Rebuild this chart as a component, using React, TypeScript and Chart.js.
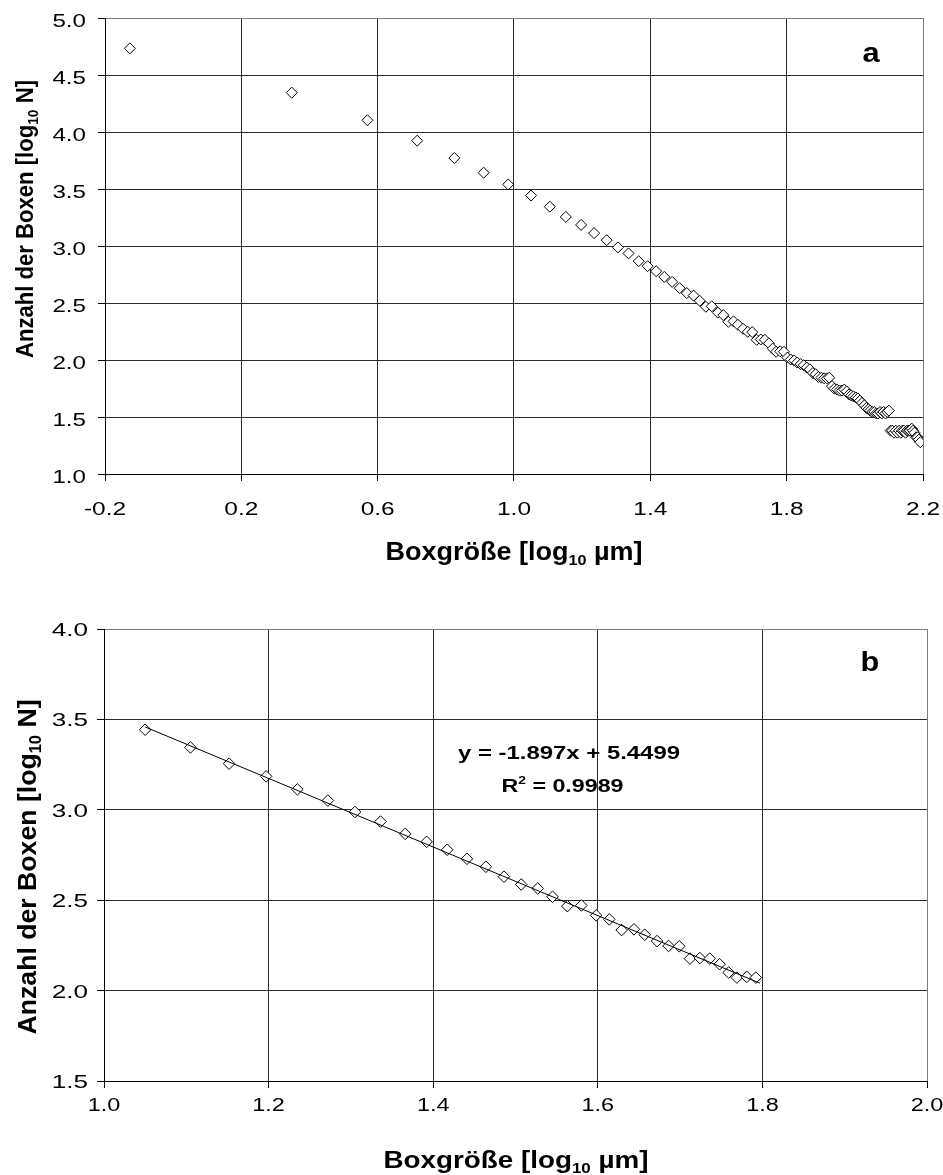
import React, { useEffect, useRef } from "react";
import { Chart, registerables } from "chart.js";

Chart.register(...registerables);

const FONT = '"Liberation Sans", Arial, Helvetica, sans-serif';

// ---------- data (log10 box size, log10 number of boxes) ----------
// chart a: smallest box sizes
const headX = [-0.127, 0.348, 0.57, 0.716, 0.825, 0.911, 0.983];
const headY = [4.734, 4.345, 4.103, 3.924, 3.772, 3.643, 3.54];
// range used for the regression (chart b, also part of chart a)
const fitX = [
  1.05, 1.105, 1.152, 1.197, 1.235, 1.272, 1.305, 1.336, 1.366, 1.392, 1.417, 1.441,
  1.464, 1.486, 1.507, 1.527, 1.545, 1.563, 1.58, 1.598, 1.614, 1.629, 1.644, 1.657,
  1.672, 1.686, 1.699, 1.712, 1.724, 1.736, 1.748, 1.759, 1.769, 1.781, 1.792,
];
const fitY = [
  3.443, 3.345, 3.255, 3.185, 3.113, 3.051, 2.988, 2.935, 2.867, 2.823, 2.779, 2.729,
  2.685, 2.63, 2.587, 2.565, 2.519, 2.467, 2.471, 2.416, 2.394, 2.335, 2.339, 2.309,
  2.274, 2.247, 2.245, 2.177, 2.18, 2.177, 2.146, 2.1, 2.072, 2.076, 2.072,
];
// chart a: largest box sizes
const tailX = [
  1.802, 1.812, 1.822, 1.831, 1.841, 1.85, 1.859, 1.868, 1.877, 1.885, 1.893, 1.902,
  1.91, 1.918, 1.925, 1.933, 1.94, 1.948, 1.955, 1.962, 1.969, 1.976, 1.983, 1.989,
  1.996, 2.003, 2.009, 2.015, 2.021, 2.028, 2.034, 2.04, 2.045, 2.051, 2.057, 2.063,
  2.068, 2.074, 2.079, 2.084, 2.09, 2.095, 2.1, 2.105, 2.11, 2.115, 2.12, 2.125,
  2.13, 2.135, 2.139, 2.144, 2.149, 2.153, 2.158, 2.162, 2.167, 2.171, 2.175, 2.18,
  2.184, 2.188, 2.192,
];
const tailY = [
  2.021, 2.004, 1.996, 1.978, 1.964, 1.954, 1.934, 1.919, 1.886, 1.875, 1.851, 1.845,
  1.839, 1.839, 1.845, 1.771, 1.748, 1.74, 1.732, 1.732, 1.74, 1.724, 1.699, 1.69,
  1.681, 1.672, 1.663, 1.643, 1.623, 1.602, 1.58, 1.568, 1.556, 1.544, 1.544, 1.531,
  1.531, 1.544, 1.531, 1.544, 1.531, 1.544, 1.556, 1.38, 1.38, 1.362, 1.38, 1.362,
  1.38, 1.362, 1.38, 1.38, 1.362, 1.38, 1.38, 1.38, 1.398, 1.38, 1.362, 1.322,
  1.322, 1.301, 1.279,
];
// linear trend line of chart b (end points)
const trendX = [1.05, 1.797];
const trendY = [3.458, 2.041];

// tick labels
const xTicksA = [-0.2, 0.2, 0.6, 1.0, 1.4, 1.8, 2.2];
const yTicksA = [1.0, 1.5, 2.0, 2.5, 3.0, 3.5, 4.0, 4.5, 5.0];
const xTicksB = [1.0, 1.2, 1.4, 1.6, 1.8, 2.0];
const yTicksB = [1.5, 2.0, 2.5, 3.0, 3.5, 4.0];

const xTitle = ["Boxgröße [log", "10", " µm]"];
const yTitle = ["Anzahl der Boxen [log", "10", " N]"];
const equation = "y = -1.897x + 5.4499";
const rSquared = ["R", "2", " = 0.9989"];

// ---------- rich text drawing ----------
type Seg = { t: string; size: number; dy?: number };
type TextItem = {
  segs: Seg[];
  x: number;
  y: number;
  width?: number;
  sx?: number;
  rot?: number;
  bold?: boolean;
  align?: "left" | "center" | "right";
};

function drawItem(ctx: CanvasRenderingContext2D, it: TextItem) {
  ctx.save();
  const fontOf = (s: Seg) => `${it.bold ? "bold " : ""}${s.size}px ${FONT}`;
  let natural = 0;
  const widths = it.segs.map((s) => {
    ctx.font = fontOf(s);
    const w = ctx.measureText(s.t).width;
    natural += w;
    return w;
  });
  ctx.translate(it.x, it.y);
  if (it.rot) ctx.rotate(it.rot);
  const k = it.width ? it.width / natural : it.sx ?? 1;
  ctx.scale(k, 1);
  let x = it.align === "right" ? -natural : it.align === "left" ? 0 : -natural / 2;
  ctx.textAlign = "left";
  ctx.textBaseline = "alphabetic";
  ctx.fillStyle = "#000";
  it.segs.forEach((s, i) => {
    ctx.font = fontOf(s);
    ctx.fillText(s.t, x, s.dy ?? 0);
    x += widths[i];
  });
  ctx.restore();
}

type TickSpec = {
  xSize: number;
  xSx: number;
  xBase: number;
  ySize: number;
  ySx: number;
  yRight: number;
  yDy: number;
};

const richTextPlugin = {
  id: "richText",
  afterDraw(chart: any, _args: any, opts: any) {
    const ctx: CanvasRenderingContext2D = chart.ctx;
    const t: TickSpec = opts.ticks;
    const xs = chart.scales.x;
    const ys = chart.scales.y;
    xs.ticks.forEach((tk: any) =>
      drawItem(ctx, {
        segs: [{ t: tk.value.toFixed(1), size: t.xSize }],
        x: xs.getPixelForValue(tk.value),
        y: t.xBase,
        sx: t.xSx,
        align: "center",
      })
    );
    ys.ticks.forEach((tk: any) =>
      drawItem(ctx, {
        segs: [{ t: tk.value.toFixed(1), size: t.ySize }],
        x: t.yRight,
        y: ys.getPixelForValue(tk.value) + t.yDy,
        sx: t.ySx,
        align: "right",
      })
    );
    (opts.items as TextItem[]).forEach((it) => drawItem(ctx, it));
  },
};

function pts(xs: number[], ys: number[]) {
  return xs.map((x, i) => ({ x, y: ys[i] }));
}

type Spec = {
  xMin: number;
  xMax: number;
  yMin: number;
  yMax: number;
  xTicks: number[];
  yTicks: number[];
  yAxisWidth: number;
  padding: { left: number; top: number; right: number; bottom: number };
  datasets: any[];
  ticks: TickSpec;
  items: TextItem[];
};

function makeConfig(s: Spec): any {
  const lastGrid = (n: number) => (c: any) => (c.index === n - 1 ? "#7a7a7a" : "#2a2a2a");
  return {
    type: "scatter",
    data: { datasets: s.datasets },
    plugins: [richTextPlugin],
    options: {
      animation: false,
      responsive: false,
      events: [],
      layout: { padding: s.padding },
      plugins: {
        legend: { display: false },
        tooltip: { enabled: false },
        richText: { ticks: s.ticks, items: s.items },
      },
      scales: {
        x: {
          type: "linear",
          min: s.xMin,
          max: s.xMax,
          afterBuildTicks: (ax: any) => {
            ax.ticks = s.xTicks.map((v) => ({ value: v }));
          },
          afterFit: (ax: any) => {
            ax.height = 30;
          },
          grid: {
            color: lastGrid(s.xTicks.length),
            lineWidth: 1,
            drawTicks: true,
            tickLength: 7,
            tickColor: "#000",
          },
          border: { display: true, color: "#000", width: 1 },
          ticks: { display: false },
          title: { display: false },
        },
        y: {
          type: "linear",
          min: s.yMin,
          max: s.yMax,
          afterBuildTicks: (ax: any) => {
            ax.ticks = s.yTicks.map((v) => ({ value: v }));
          },
          afterFit: (ax: any) => {
            ax.width = s.yAxisWidth;
          },
          grid: {
            color: lastGrid(s.yTicks.length),
            lineWidth: 1,
            drawTicks: true,
            tickLength: 7,
            tickColor: "#000",
          },
          border: { display: true, color: "#000", width: 1 },
          ticks: { display: false },
          title: { display: false },
        },
      },
    },
  };
}

const markerStyle = {
  showLine: false,
  pointStyle: "rectRot",
  pointBackgroundColor: "#ffffff",
  pointBorderColor: "#000000",
  pointBorderWidth: 1,
};

const H_A = 590;
const H_B = 585;
const TOP_B = 590;

function configA() {
  return makeConfig({
    xMin: -0.2,
    xMax: 2.2,
    yMin: 1.0,
    yMax: 5.0,
    xTicks: xTicksA,
    yTicks: yTicksA,
    yAxisWidth: 105,
    padding: { left: 0, top: 18, right: 20, bottom: H_A - 474 - 30 },
    datasets: [
      {
        ...markerStyle,
        pointRadius: 5.5,
        data: [...pts(headX, headY), ...pts(fitX, fitY), ...pts(tailX, tailY)],
      },
    ],
    ticks: { xSize: 17.5, xSx: 1.4, xBase: 515, ySize: 17.5, ySx: 1.38, yRight: 86, yDy: 9 },
    items: [
      {
        segs: [
          { t: xTitle[0], size: 25 },
          { t: xTitle[1], size: 15, dy: 5 },
          { t: xTitle[2], size: 25 },
        ],
        x: 514,
        y: 560,
        width: 257,
        bold: true,
      },
      {
        segs: [
          { t: yTitle[0], size: 24 },
          { t: yTitle[1], size: 15, dy: 5 },
          { t: yTitle[2], size: 24 },
        ],
        x: 33,
        y: 219,
        width: 278,
        rot: -Math.PI / 2,
        bold: true,
      },
      { segs: [{ t: "a", size: 28 }], x: 871, y: 62, sx: 1.1, bold: true },
    ],
  });
}

function configB() {
  return makeConfig({
    xMin: 1.0,
    xMax: 2.0,
    yMin: 1.5,
    yMax: 4.0,
    xTicks: xTicksB,
    yTicks: yTicksB,
    yAxisWidth: 104,
    padding: { left: 0, top: 629 - TOP_B, right: 16, bottom: H_B - (1081 - TOP_B) - 30 },
    datasets: [
      {
        type: "line",
        data: pts(trendX, trendY),
        borderColor: "#000",
        borderWidth: 1,
        pointRadius: 0,
        showLine: true,
        fill: false,
      },
      {
        ...markerStyle,
        pointRadius: 5.8,
        data: pts(fitX, fitY),
      },
    ],
    ticks: {
      xSize: 18,
      xSx: 1.3,
      xBase: 1111 - TOP_B,
      ySize: 18,
      ySx: 1.45,
      yRight: 88,
      yDy: 7,
    },
    items: [
      {
        segs: [
          { t: xTitle[0], size: 23 },
          { t: xTitle[1], size: 14, dy: 5 },
          { t: xTitle[2], size: 23 },
        ],
        x: 516,
        y: 1168 - TOP_B,
        width: 265,
        bold: true,
      },
      {
        segs: [
          { t: yTitle[0], size: 26 },
          { t: yTitle[1], size: 16, dy: 5 },
          { t: yTitle[2], size: 26 },
        ],
        x: 36,
        y: 867 - TOP_B,
        width: 335,
        rot: -Math.PI / 2,
        bold: true,
      },
      { segs: [{ t: "b", size: 28 }], x: 870, y: 671 - TOP_B, sx: 1.1, bold: true },
      { segs: [{ t: equation, size: 18.5 }], x: 569, y: 759 - TOP_B, width: 222, bold: true },
      {
        segs: [
          { t: rSquared[0], size: 18.5 },
          { t: rSquared[1], size: 11, dy: -8 },
          { t: rSquared[2], size: 18.5 },
        ],
        x: 562.5,
        y: 792 - TOP_B,
        width: 122,
        bold: true,
      },
    ],
  });
}

function ChartCanvas({ make, top, height }: { make: () => any; top: number; height: number }) {
  const ref = useRef<HTMLCanvasElement | null>(null);
  useEffect(() => {
    if (!ref.current) return;
    const chart = new Chart(ref.current, make());
    return () => chart.destroy();
  }, [make]);
  return (
    <canvas
      ref={ref}
      width={943}
      height={height}
      style={{ position: "absolute", left: 0, top, width: 943, height, display: "block" }}
    />
  );
}

export default function App() {
  return (
    <div
      style={{
        position: "absolute",
        left: 0,
        top: 0,
        width: 943,
        height: 1175,
        background: "#fff",
        overflow: "hidden",
      }}
    >
      <ChartCanvas make={configA} top={0} height={H_A} />
      <ChartCanvas make={configB} top={TOP_B} height={H_B} />
    </div>
  );
}
